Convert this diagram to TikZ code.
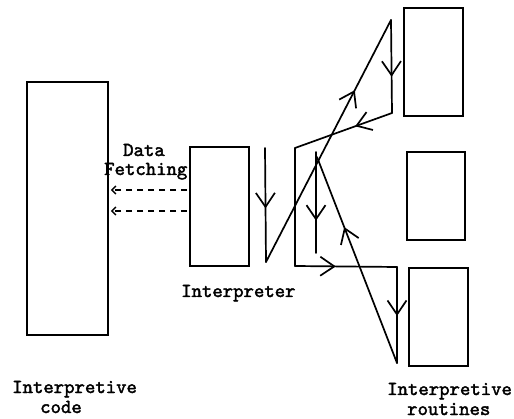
\documentclass[tikz,border=0pt]{standalone}
\usepackage{fontspec}
\newfontfamily\tw{lmmono10-regular.otf}[FakeBold=2]
\usetikzlibrary{arrows.meta,decorations.markings}
\tikzset{
  box/.style={draw, line width=1.7pt, inner sep=0pt},
  flow/.style={line width=1.7pt, line cap=round, postaction={decorate},
    decoration={markings, mark=at position #1 with {\arrow[line width=1.7pt]{Straight Barb[length=14pt,width=19pt]}}}},
  plain/.style={line width=1.7pt, line cap=round},
  fetch/.style={line width=1.3pt, dash pattern=on 6pt off 5pt, shorten <=2pt, shorten >=2pt,
    -{Straight Barb[length=4pt,width=8pt,line width=1.5pt]}},
  lab/.style={font=\tw\fontsize{19.8}{22}\selectfont, inner sep=0pt, anchor=base west}
}
\begin{document}
\begin{tikzpicture}[x=1pt,y=-1pt]
\useasboundingbox (0,0) rectangle (514,419);
% boxes
\node[box, minimum width=81pt, minimum height=253pt] (code) at (67.5,208.5) {};
\node[box, minimum width=59pt, minimum height=119pt] (interp) at (219.5,206.5) {};
\node[box, minimum width=59pt, minimum height=108pt] (r1) at (433.5,62) {};
\node[box, minimum width=58pt, minimum height=88pt] (r2) at (436,196) {};
\node[box, minimum width=59pt, minimum height=98pt] (r3) at (438.5,317) {};
% flow points
\coordinate (a1) at (265,148);
\coordinate (a2) at (266,262);
\coordinate (a3) at (391,20);
\coordinate (a4) at (392,113);
\coordinate (a5) at (295,148);
\coordinate (a6) at (295,266);
\coordinate (a7) at (397,267);
\coordinate (a8) at (397,363);
\coordinate (a9) at (317,157);
\coordinate (a10) at (316,253);
\coordinate (a9t) at (316,152);
\draw[flow=0.53] (a1) -- (a2);
\draw[flow=0.71] (a2) -- (a3);
\draw[flow=0.61] (a3) -- (a4);
\draw[flow=0.38] (a4) -- (a5);
\draw[plain] (a5) -- (a6);
\draw[flow=0.40] (a6) -- (a7);
\draw[flow=0.51] (a7) -- (a8);
\draw[flow=0.66] (a8) -- (a9);
\draw[flow=0.68] (a9t) -- (a10);
% data fetching
\coordinate (f1) at (150,190);
\coordinate (f2) at (150,211);
\draw[fetch] (interp.west |- f1) -- (code.east |- f1);
\draw[fetch] (interp.west |- f2) -- (code.east |- f2);
% labels
\node[lab] (tdata) at (123,156) {Data};
\node[lab] (tfetch) at (104,175) {Fetching};
\node[lab] (tinterp) at (181,297) {Interpreter};
\node[lab] (tcode1) at (12,393) {Interpretive};
\node[lab] (tcode2) at (40,413) {code};
\node[lab] (trout1) at (387,395) {Interpretive};
\node[lab] (trout2) at (407,415) {routines};
\end{tikzpicture}
\end{document}
